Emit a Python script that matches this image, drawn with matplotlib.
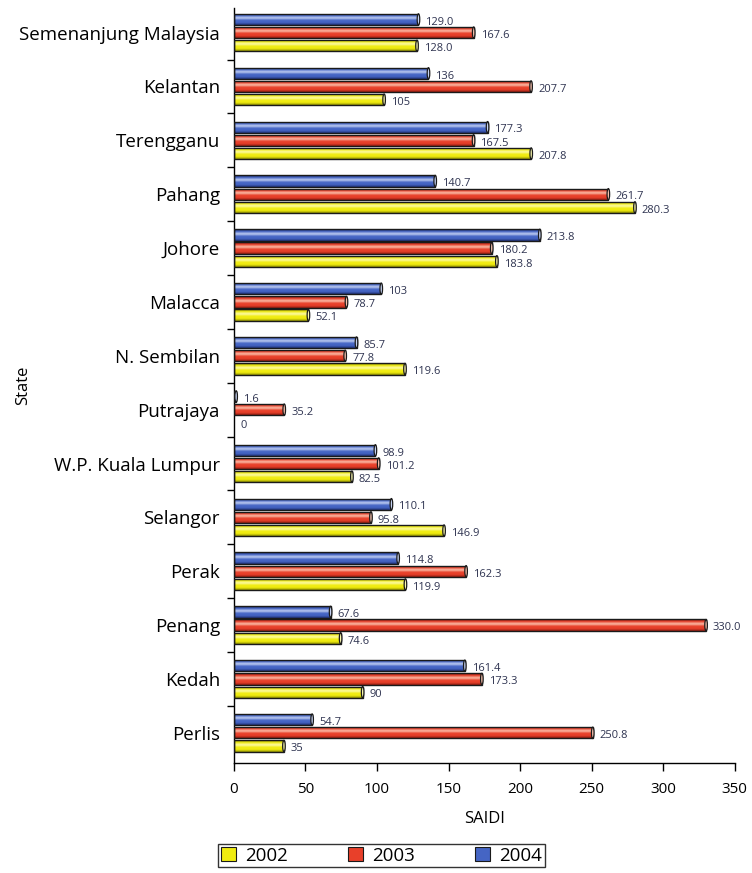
import numpy as np
import matplotlib
matplotlib.use("Agg")
import matplotlib.pyplot as plt
from matplotlib.colors import LinearSegmentedColormap
from matplotlib.patches import Rectangle, Ellipse

plt.rcParams["font.family"] = ["Open Sans", "DejaVu Sans"]

states = ["Semenanjung Malaysia", "Kelantan", "Terengganu", "Pahang", "Johore",
          "Malacca", "N. Sembilan", "Putrajaya", "W.P. Kuala Lumpur", "Selangor",
          "Perak", "Penang", "Kedah", "Perlis"]
saidi_2002 = [128.0, 105, 207.8, 280.3, 183.8, 52.1, 119.6, 0, 82.5, 146.9,
              119.9, 74.6, 90, 35]
saidi_2003 = [167.6, 207.7, 167.5, 261.7, 180.2, 78.7, 77.8, 35.2, 101.2, 95.8,
              162.3, 330.0, 173.3, 250.8]
saidi_2004 = [129.0, 136, 177.3, 140.7, 213.8, 103, 85.7, 1.6, 98.9, 110.1,
              114.8, 67.6, 161.4, 54.7]
labels_2002 = ["128.0", "105", "207.8", "280.3", "183.8", "52.1", "119.6", "0",
               "82.5", "146.9", "119.9", "74.6", "90", "35"]
labels_2003 = ["167.6", "207.7", "167.5", "261.7", "180.2", "78.7", "77.8",
               "35.2", "101.2", "95.8", "162.3", "330.0", "173.3", "250.8"]
labels_2004 = ["129.0", "136", "177.3", "140.7", "213.8", "103", "85.7", "1.6",
               "98.9", "110.1", "114.8", "67.6", "161.4", "54.7"]
years = ["2002", "2003", "2004"]

# (dark edge, body, highlight) for each year's cylinder shading
palettes = {
    "2002": ("#8a8a00", "#f0ec10", "#fdfbb0"),
    "2003": ("#8c1a10", "#e8402a", "#fcc4b0"),
    "2004": ("#1e2f72", "#4565c4", "#c6d3f4"),
}

series = [
    (saidi_2004, labels_2004, "2004", -0.245),
    (saidi_2003, labels_2003, "2003", 0.0),
    (saidi_2002, labels_2002, "2002", 0.245),
]
bar_h = 0.21

fig = plt.figure(figsize=(7.52, 8.73), dpi=100)
fig.patch.set_facecolor("white")
ax = fig.add_axes([0.311, 0.126, 0.666, 0.865])

y = np.arange(len(states))
grad = np.linspace(0, 1, 64).reshape(-1, 1)
for values, labels, year, off in series:
    dark, body, light = palettes[year]
    cmap = LinearSegmentedColormap.from_list(
        year, [dark, body, light, body, body, dark])
    for yi, v, lab in zip(y, values, labels):
        yc = yi + off
        if v > 0:
            rect = Rectangle((0, yc - bar_h / 2), v, bar_h,
                             facecolor="none", edgecolor="#1a1a1a", lw=1.0,
                             zorder=3)
            ax.add_patch(rect)
            im = ax.imshow(grad, extent=[0, v, yc + bar_h / 2, yc - bar_h / 2],
                           aspect="auto", cmap=cmap, zorder=2,
                           interpolation="bicubic")
            im.set_clip_path(rect)
            # rounded end cap of the cylinder
            ax.add_patch(Ellipse((v, yc), 1.8, bar_h, facecolor=light,
                                 edgecolor="#1a1a1a", lw=0.9, zorder=4))
        ax.annotate(lab, (v, yc), xytext=(5, -2), textcoords="offset points",
                    ha="left", va="center", fontsize=8, color="#2e3350",
                    zorder=5)

ax.set_xlim(0, 350)
ax.set_ylim(13.56, -0.46)
ax.set_xticks(np.arange(0, 351, 50))
ax.tick_params(axis="x", labelsize=11, length=6, width=1, pad=8)
ax.set_yticks(y)
ax.set_yticklabels(states, fontsize=13.5)
ax.tick_params(axis="y", length=0, pad=10)
ax.set_yticks(np.arange(0.5, len(states) - 1, 1.0), minor=True)
ax.tick_params(axis="y", which="minor", length=5, width=1)
for side in ("top", "right"):
    ax.spines[side].set_visible(False)
for side in ("left", "bottom"):
    ax.spines[side].set_linewidth(1.0)

ax.set_xlabel("SAIDI", fontsize=12, labelpad=10)
ax.set_ylabel("State", fontsize=12)
ax.yaxis.set_label_coords(-0.405, 0.5)

handles = [Rectangle((0, 0), 1, 1, facecolor=palettes[yr][1],
                     edgecolor="#1a1a1a", lw=0.8) for yr in years]
fig.legend(handles, years, loc="lower center", bbox_to_anchor=(0.507, 0.0),
           ncol=3, fontsize=13.5, frameon=True, fancybox=False,
           edgecolor="black", handlelength=0.8, handleheight=0.8,
           columnspacing=3.2, borderpad=0.15, handletextpad=0.5,
           borderaxespad=0.3)

fig.savefig("out.png", dpi=100, facecolor="white")
